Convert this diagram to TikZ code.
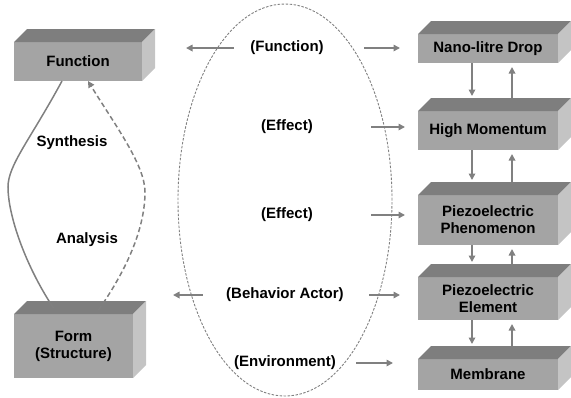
\documentclass[tikz,border=0pt]{standalone}
\usepackage{fontspec}
\setmainfont{Liberation Sans}
\usetikzlibrary{arrows.meta,positioning,shapes.geometric}
\definecolor{cFront}{HTML}{A4A4A4}
\definecolor{cTop}{HTML}{7E7E7E}
\definecolor{cSide}{HTML}{C4C4C4}
\definecolor{cLine}{HTML}{808080}
\tikzset{
  block/.style={fill=cFront,inner sep=0pt,outer sep=0pt,align=center,minimum width=140pt,minimum height=#1},
  flow/.style={-{Triangle[length=6.5pt,width=6.5pt]},line width=1.6pt,draw=cLine},
  tag/.style={align=center},
  every node/.style={font=\fontsize{15}{17}\selectfont\bfseries}
}

\begin{document}
\begin{tikzpicture}[x=1pt,y=-1pt]
    \useasboundingbox (0,0) rectangle (571,397);
    % Nodes
    \node[block=39pt, minimum width=128pt] (fn) at (78,61.5) {Function};
    \node[block=64pt, minimum width=119pt] (form) at (73.5,346) {Form\\(Structure)};
    \node[block=29pt] (nano) at (488,48.5) {Nano-litre Drop};
    \node[block=39pt, below=48pt of nano] (hm) {High Momentum};
    \node[block=50pt, below=45pt of hm] (phen) {Piezoelectric\\Phenomenon};
    \node[block=43pt, below=32pt of phen] (elem) {Piezoelectric\\Element};
    \node[block=31pt, below=39pt of elem] (memb) {Membrane};

    % Box faces
    \foreach \n in {fn,form,nano,hm,phen,elem,memb}{
      \fill[cTop] (\n.north west) -- ++(13,-13) -- ([shift={(13,-13)}]\n.north east) -- (\n.north east) -- cycle;
      \fill[cSide] (\n.north east) -- ++(13,-13) -- ([shift={(13,-13)}]\n.south east) -- (\n.south east) -- cycle;
    }

    \node[draw=cLine, dash pattern=on 2.5pt off 1.5pt, line width=0.9pt, ellipse, inner sep=0pt,
          minimum width=214pt, minimum height=392pt] (cyc) at (285,200) {};

    \node[tag] (lfun) at (287,48) {(Function)};
    \node[tag] (eff1) at (287,127) {(Effect)};
    \node[tag] (eff2) at (287,215) {(Effect)};
    \node[tag] (beh) at (285,295) {(Behavior Actor)};
    \node[tag] (env) at (285,363) {(Environment)};
    \node[tag] (syn) at (72,143) {Synthesis};
    \node[tag] (ana) at (87,240) {Analysis};
    \coordinate (sbend) at (8,187);
    \coordinate (abend) at (145,192);

    % Paths
    \draw[flow, shorten <=13pt, shorten >=44pt] (lfun.west) -- (lfun.west -| fn.east);
    \draw[flow, shorten <=37pt, shorten >=18pt] (lfun.east) -- (lfun.east -| nano.west);
    \draw[flow, shorten <=55pt, shorten >=13pt] (eff1.east) -- (eff1.east -| hm.west);
    \draw[flow, shorten <=55pt, shorten >=13pt] (eff2.east) -- (eff2.east -| phen.west);
    \draw[flow, shorten <=20pt, shorten >=40pt] (beh.west) -- (beh.west -| form.east);
    \draw[flow, shorten <=22pt, shorten >=18pt] (beh.east) -- (beh.east -| elem.west);
    \draw[flow, shorten <=17pt, shorten >=25pt] (env.east) -- (env.east -| memb.west);

    \foreach \a/\b in {nano/hm,hm/phen,phen/elem,elem/memb}{
      \draw[flow, shorten >=2pt] ([xshift=-16pt]\a.south) -- ([xshift=-16pt,yshift=13pt]\b.north);
      \draw[flow, shorten >=4pt] ([xshift=24pt,yshift=13pt]\b.north) -- ([xshift=24pt]\a.south);
    }

    \draw[cLine, line width=1.5pt] ([xshift=-16pt]fn.south) .. controls (30,140) and (8,165) .. (sbend)
      .. controls (8,215) and (25,265) .. ([xshift=-20pt,yshift=6pt]form.north);
    \draw[flow, line width=1.5pt, dash pattern=on 5pt off 3pt] ([xshift=25pt,yshift=4pt]form.north)
      .. controls (130,265) and (145,225) .. (abend) .. controls (145,165) and (115,125) .. ([xshift=10pt]fn.south);
  \end{tikzpicture}
\end{document}
